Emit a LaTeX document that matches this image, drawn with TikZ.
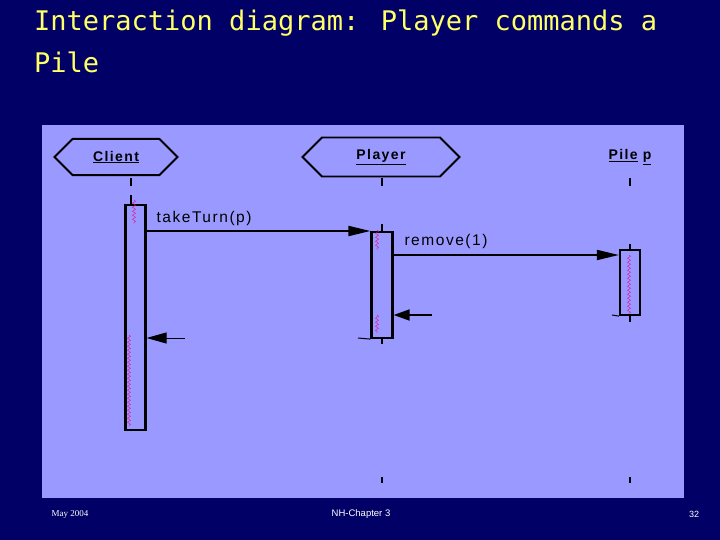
\documentclass[tikz,border=0pt]{standalone}
\usepackage{fontspec}
\setmainfont{Liberation Sans}
\newfontfamily\monof{DejaVu Sans Mono}
\newfontfamily\seriff{Liberation Serif}
\newfontfamily\widef[LetterSpace=10]{Liberation Sans}
\usetikzlibrary{shapes.geometric,shapes.misc,arrows.meta,decorations.pathmorphing}
\definecolor{navy}{HTML}{000066}
\definecolor{panel}{HTML}{9999FF}
\definecolor{ttl}{HTML}{FFFF66}
\begin{document}
\begin{tikzpicture}[x=1pt,y=-1pt,
  obj/.style={draw,line width=1.8pt,shape=chamfered rectangle,chamfered rectangle xsep=10pt,chamfered rectangle ysep=12pt,minimum width=123pt,minimum height=35pt,font=\widef\bfseries\fontsize{14}{16}\selectfont,inner sep=0pt},
  bar/.style={draw,line width=2.2pt,fill=panel},
  msg/.style={line width=1.8pt,-{Triangle[length=22pt,width=10pt]}},
  tick/.style={line width=2pt},
  squig/.style={magenta,decorate,decoration={snake,amplitude=1.5pt,segment length=4pt}},
  lbl/.style={anchor=west,font=\widef\fontsize{15.5}{17}\selectfont}]
\fill[navy] (0,0) rectangle (720,540);
\useasboundingbox (0,0) rectangle (720,540);
\fill[panel] (42,125) rectangle (684,498);
\node[anchor=west,ttl,font=\monof\fontsize{27}{30}\selectfont,inner sep=0] (t1) at (34,23) {Interaction diagram: Player commands a};
\node[anchor=west,ttl,font=\monof\fontsize{27}{30}\selectfont,inner sep=0] (t2) at (34,62) {Pile};
% objects
\node[obj] (client) at (116,157) {\underline{Client}};
\node[obj,minimum width=157pt] (player) at (381,157) {\underline{Player}};
\node[font=\widef\bfseries\fontsize{14}{16}\selectfont] (pile) at (630,157) {\underline{Pile} \underline{p}};
% lifeline ticks
\foreach \x/\n in {131/c,382/p,630/q}{
  \draw[tick] (\x,178) -- (\x,186);}
\draw[tick] (131,195) -- (131,205);
\draw[tick] (382,224) -- (382,232);
\draw[tick] (630,244) -- (630,250);
\draw[tick] (382,338) -- (382,344);
\draw[tick] (630,315) -- (630,322);
\draw[tick] (382,477) -- (382,483);
\draw[tick] (630,477) -- (630,483);
% bars
\node[bar,minimum width=20pt,minimum height=225pt,inner sep=0] (cb) at (135.5,317.5) {};
\node[bar,minimum width=21pt,minimum height=106pt,inner sep=0] (pb) at (382,285) {};
\node[bar,minimum width=20pt,minimum height=65pt,inner sep=0] (qb) at (630,282.5) {};
\draw[line width=1pt] (358,338) -- (pb.south west);
\draw[line width=1pt] (612,315) -- (qb.south west);
% squiggles
\draw[squig] (134,200) -- (134,224);
\draw[squig] (377,230) -- (377,250);
\draw[squig] (377,315) -- (377,333);
\draw[squig] (629,255) -- (629,314);
\draw[squig] (129,335) -- (129,426);
% messages
\coordinate (a1) at (cb.east |- 0,231);
\draw[msg] (a1) -- (a1 -| pb.west);
\node[lbl] (l1) at (153,218) {takeTurn(p)};
\coordinate (a2) at (pb.east |- 0,255);
\draw[msg] (a2) -- (a2 -| qb.west);
\node[lbl] (l2) at (401,241) {remove(1)};
\coordinate (r1) at (432,315);
\draw[msg,-{Triangle[length=16pt,width=11pt]}] (r1) -- (r1 -| pb.east);
\coordinate (r2) at (185,338);
\draw[msg,line width=1pt,-{Triangle[length=20pt,width=11pt]}] (r2) -- (r2 -| cb.east);
% footer
\node[white,font=\seriff\fontsize{9}{10}\selectfont] (f1) at (70,514) {May 2004};
\node[white,font=\fontsize{9.5}{10}\selectfont] (f2) at (361,514) {NH-Chapter 3};
\node[white,font=\fontsize{9}{10}\selectfont] (f3) at (694,514) {32};
\end{tikzpicture}
\end{document}
